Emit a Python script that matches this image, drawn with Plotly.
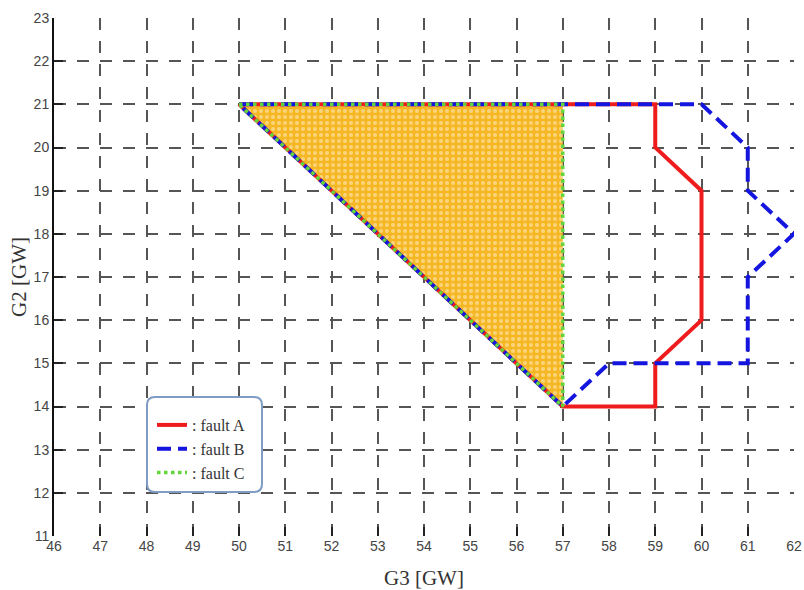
import plotly.graph_objects as go

# Operating-region boundaries (G3 on x, G2 on y), in GW
fault_a_g3 = [50, 59, 59, 60, 60, 59, 59, 57, 50]
fault_a_g2 = [21, 21, 20, 19, 16, 15, 14, 14, 21]

fault_b_g3 = [50, 60, 61, 61, 62, 61, 61, 58, 57, 50]
fault_b_g2 = [21, 21, 20, 19, 18, 17, 15, 15, 14, 21]

fault_c_g3 = [50, 57, 57, 50]
fault_c_g2 = [21, 21, 14, 21]

x_ticks = list(range(46, 63))
y_ticks = list(range(11, 24))

fig = go.Figure()

# shaded common region
fig.add_trace(go.Scatter(
    x=fault_c_g3, y=fault_c_g2, mode="lines", fill="toself",
    fillcolor="#F6B724",
    fillpattern=dict(shape=".", bgcolor="#F6B724", fgcolor="rgba(255,255,255,0.8)",
                     size=6, solidity=0.35),
    line=dict(width=0), showlegend=False, hoverinfo="skip",
))

fig.add_trace(go.Scatter(
    x=fault_a_g3, y=fault_a_g2, mode="lines", name=": fault A",
    line=dict(color="#EE1C1C", width=4), cliponaxis=False,
))
fig.add_trace(go.Scatter(
    x=fault_b_g3, y=fault_b_g2, mode="lines", name=": fault B",
    line=dict(color="#1515E0", width=4, dash="14px,7px"), cliponaxis=False,
))
fig.add_trace(go.Scatter(
    x=fault_c_g3, y=fault_c_g2, mode="lines", name=": fault C",
    line=dict(color="#62D63A", width=3.5, dash="dot"), cliponaxis=False,
))

tick_font = dict(family="Liberation Sans Narrow, Arial Narrow, Liberation Sans, sans-serif",
                 size=14, color="#444")
title_font = dict(family="Liberation Serif, Times New Roman, serif", size=21, color="#333")
grid_style = dict(showgrid=True, gridcolor="#555", gridwidth=1.5, griddash="12px,11px",
                  ticks="inside", ticklen=9, tickwidth=2, tickcolor="#222",
                  tickfont=tick_font, zeroline=False, automargin=False)

fig.update_xaxes(range=[46, 62], tickvals=x_ticks, ticktext=[str(v) for v in x_ticks],
                 title=dict(text="G3 [GW]", font=title_font, standoff=18),
                 showline=False, **grid_style)
fig.update_yaxes(range=[11, 23], tickvals=y_ticks, ticktext=[str(v) for v in y_ticks],
                 title=dict(text="G2 [GW]", font=title_font, standoff=1),
                 showline=True, linecolor="#111", linewidth=2, **grid_style)

# rounded legend frame (paper coordinates)
L, R, T, B = 54, 794, 18, 536
W, H = R - L, B - T
def px(x):
    return (x - L) / W
def py(y):
    return (B - y) / H
x0, x1, y0, y1, r = 147, 262, 397, 492, 8
path = (f"M {px(x0 + r)},{py(y0)} L {px(x1 - r)},{py(y0)} "
        f"Q {px(x1)},{py(y0)} {px(x1)},{py(y0 + r)} L {px(x1)},{py(y1 - r)} "
        f"Q {px(x1)},{py(y1)} {px(x1 - r)},{py(y1)} L {px(x0 + r)},{py(y1)} "
        f"Q {px(x0)},{py(y1)} {px(x0)},{py(y1 - r)} L {px(x0)},{py(y0 + r)} "
        f"Q {px(x0)},{py(y0)} {px(x0 + r)},{py(y0)} Z")
fig.add_shape(type="path", path=path, xref="paper", yref="paper",
              fillcolor="white", line=dict(color="#7F9CC4", width=2), layer="above")

fig.update_layout(
    width=804, height=590,
    margin=dict(l=L, r=804 - R, t=T, b=590 - B),
    paper_bgcolor="white", plot_bgcolor="white",
    legend=dict(x=px(152), y=py(408), xanchor="left", yanchor="top",
                bgcolor="rgba(0,0,0,0)", borderwidth=0,
                font=dict(family="Liberation Serif, Times New Roman, serif", size=16, color="#333"),
                itemwidth=30, tracegroupgap=0),
)

fig.write_html("out.html")
